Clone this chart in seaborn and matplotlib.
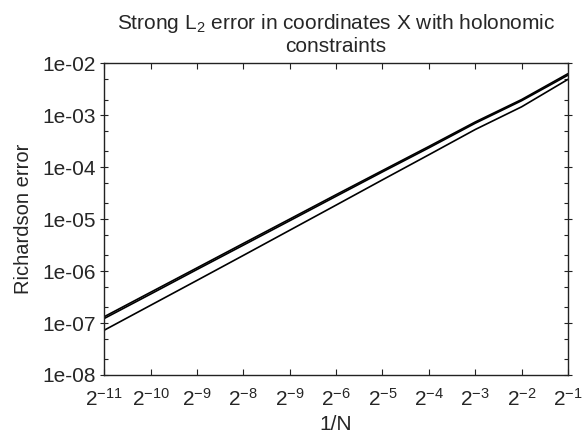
import matplotlib
matplotlib.use('Agg')
import matplotlib.pyplot as plt
import matplotlib.ticker as mticker
import numpy as np
import pandas as pd
import seaborn as sns

# step size 1/N = 2^-11 ... 2^-1
exponents = [-11, -10, -9, -8, -7, -6, -5, -4, -3, -2, -1]
# tick labels as printed on the original (the fifth one really reads 2^-9)
xtick_labels = ['$2^{-11}$', '$2^{-10}$', '$2^{-9}$', '$2^{-8}$', '$2^{-9}$',
                '$2^{-6}$', '$2^{-5}$', '$2^{-4}$', '$2^{-3}$', '$2^{-2}$', '$2^{-1}$']

err_a = [1.32e-7, 3.9e-7, 1.15e-6, 3.4e-6, 1.0e-5, 2.95e-5, 8.6e-5, 2.5e-4, 7.4e-4, 2.0e-3, 6.3e-3]
err_b = [1.22e-7, 3.6e-7, 1.07e-6, 3.15e-6, 9.3e-6, 2.75e-5, 8.1e-5, 2.35e-4, 7.0e-4, 1.9e-3, 5.9e-3]
err_c = [7.26e-8, 2.19e-7, 6.6e-7, 2.0e-6, 6.1e-6, 1.86e-5, 5.7e-5, 1.73e-4, 5.3e-4, 1.45e-3, 4.9e-3]

ytick_vals = [1e-8, 1e-7, 1e-6, 1e-5, 1e-4, 1e-3, 1e-2]
ytick_labels = ['1e-08', '1e-07', '1e-06', '1e-05', '1e-04', '1e-03', '1e-02']

sns.set_theme(style='ticks')
plt.rcParams['font.family'] = ['Liberation Sans', 'DejaVu Sans']
plt.rcParams['mathtext.fontset'] = 'custom'
plt.rcParams['mathtext.rm'] = 'Liberation Sans'
plt.rcParams['mathtext.it'] = 'Liberation Sans:italic'

h = [2.0 ** e for e in exponents]
df = pd.concat([
    pd.DataFrame({'h': h, 'err': err_a, 'series': 'a'}),
    pd.DataFrame({'h': h, 'err': err_b, 'series': 'b'}),
    pd.DataFrame({'h': h, 'err': err_c, 'series': 'c'}),
])

fig = plt.figure(figsize=(5.82, 4.36), dpi=100)
ax = fig.add_axes([0.179, 0.140, 0.797, 0.715])

sns.lineplot(data=df, x='h', y='err', hue='series', palette=['black'] * 3,
             linewidth=1.2, legend=False, ax=ax)

ax.set_xscale('log', base=2)
ax.set_yscale('log')
ax.set_xlim(h[0], h[-1])
ax.set_ylim(1e-8, 1e-2)

ax.set_xticks(h)
ax.set_xticklabels(xtick_labels)
ax.xaxis.set_minor_locator(mticker.NullLocator())
ax.set_yticks(ytick_vals)
ax.set_yticklabels(ytick_labels)
ax.yaxis.set_minor_locator(mticker.LogLocator(base=10, subs=(2.0, 5.0)))
ax.yaxis.set_minor_formatter(mticker.NullFormatter())

ax.tick_params(axis='x', which='major', direction='in', top=True, bottom=True,
               length=4, width=0.8, labelsize=15, pad=9, color='#222222')
ax.tick_params(axis='y', which='major', direction='inout', left=True, right=True,
               length=6, width=0.8, labelsize=15, pad=3, color='#222222')
ax.tick_params(axis='y', which='minor', direction='in', left=True, right=True,
               length=3, width=0.8, color='#222222')

for s in ax.spines.values():
    s.set_linewidth(1.0)
    s.set_color('#222222')

ax.set_xlabel('1/N', fontsize=15, labelpad=4)
ax.set_ylabel('Richardson error', fontsize=14.5, labelpad=7)
ax.set_title('Strong L$_2$ error in coordinates X with holonomic\nconstraints',
             fontsize=15, pad=8, linespacing=1.15)

fig.savefig('out.png', dpi=100, facecolor='white')
plt.close(fig)
